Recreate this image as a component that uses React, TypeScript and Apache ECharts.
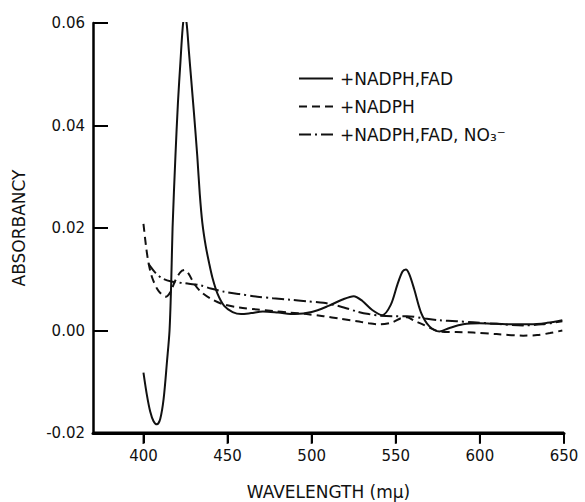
import React, { useEffect, useRef } from "react";
import * as echarts from "echarts";

const xTicks = [400, 450, 500, 550, 600, 650];
const yTicks = [-0.02, 0.0, 0.02, 0.04, 0.06];
const xRange = [370, 650];

const solidData: [number, number][] = [
  [400, -0.0082], [402, -0.0125], [404, -0.0158], [406, -0.0177], [408, -0.0183],
  [410, -0.0172], [412, -0.0133], [414, -0.006], [415.5, 0.0], [416.5, 0.0094],
  [417.3, 0.02], [419, 0.034], [420.5, 0.0445], [422, 0.0525], [423.3, 0.059],
  [424.5, 0.062], [425.8, 0.0595], [427, 0.0545], [428.5, 0.0485], [430, 0.0425],
  [432, 0.034], [433.5, 0.0265], [435, 0.021], [437, 0.0165], [439, 0.0132],
  [441, 0.0103], [444, 0.0072], [448, 0.0048], [453, 0.0036], [458, 0.0032],
  [464, 0.0034], [471, 0.0037], [480, 0.0035], [490, 0.0032], [500, 0.0036],
  [510, 0.0048], [518, 0.006], [525, 0.0067], [530, 0.0058], [536, 0.004],
  [542, 0.003], [547, 0.005], [551, 0.009], [554, 0.0115], [556, 0.0119],
  [558, 0.011], [561, 0.008], [565, 0.0035], [570, 0.0008], [576, -0.0002],
  [582, 0.0005], [590, 0.0012], [600, 0.0014], [610, 0.0013], [620, 0.0012],
  [630, 0.0012], [640, 0.0015], [649, 0.002],
];

const dashedData: [number, number][] = [
  [400, 0.0208], [401.5, 0.0165], [403, 0.0132], [405, 0.0105], [408, 0.0082],
  [411, 0.007], [413.5, 0.0066], [416, 0.0075], [419, 0.0098], [422, 0.0114],
  [424.5, 0.0118], [427, 0.011], [430, 0.0092], [434, 0.0076], [440, 0.0062],
  [447.5, 0.0051], [457, 0.0045], [467.7, 0.0041], [477, 0.0038], [487, 0.0035],
  [497, 0.0032], [507, 0.0028], [517, 0.0023], [527, 0.0018], [534, 0.0014],
  [540.7, 0.0012], [548, 0.0016], [553, 0.0024], [556.7, 0.0026], [561, 0.0019],
  [566, 0.0012], [571, 0.0004], [576, -0.0002], [586, -0.0003], [596, -0.0004],
  [610, -0.0007], [625.7, -0.001], [634, -0.0009], [641.7, -0.0005], [649, 0.0],
];

const dashDotData: [number, number][] = [
  [403, 0.013], [407, 0.0113], [411, 0.0102], [416, 0.0096], [425, 0.0092],
  [434, 0.0088], [440, 0.0082], [447.5, 0.0076], [457, 0.0071], [467.7, 0.0066],
  [477, 0.0063], [487, 0.006], [497, 0.0057], [507, 0.0054], [517, 0.0047],
  [527, 0.0037], [534, 0.0032], [540.7, 0.0029], [548, 0.0028], [556.7, 0.0028],
  [566, 0.0024], [576, 0.002], [586, 0.0018], [596, 0.0016], [610, 0.0013],
  [625.7, 0.001], [637, 0.0012], [649, 0.0018],
];

const seriesNames = ["+NADPH,FAD", "+NADPH", "+NADPH,FAD, NO₃⁻"];

export default function App() {
  const ref = useRef<HTMLDivElement>(null);
  useEffect(() => {
    document.body.style.margin = "0";
    if (!ref.current) return;
    const chart = echarts.init(ref.current, null, { renderer: "svg" });
    const font = "DejaVu Sans";
    const ink = "#000";
    const yMin = yTicks[0];
    const yMax = yTicks[yTicks.length - 1];
    const lineCommon = { type: "line", symbol: "none", showSymbol: false, smooth: 0.3, z: 3 };
    chart.setOption({
      animation: false,
      backgroundColor: "#fff",
      grid: { left: 93, top: 23, right: 21, bottom: 69, outerBoundsMode: "none" },
      legend: {
        orient: "vertical",
        left: 293,
        top: 65,
        itemWidth: 34,
        itemHeight: 14,
        itemGap: 11,
        itemStyle: { opacity: 0 },
        textStyle: { fontFamily: font, fontSize: 17, color: "#111", padding: [0, 0, 0, 2] },
        data: seriesNames,
      },
      xAxis: {
        type: "value",
        min: xRange[0],
        max: xRange[1],
        name: "WAVELENGTH (mμ)",
        nameLocation: "middle",
        nameGap: 50,
        nameTextStyle: { fontFamily: font, fontSize: 17, color: "#111" },
        axisLine: { show: true, onZero: false, lineStyle: { color: ink, width: 3 } },
        axisTick: { show: true, length: 10, lineStyle: { color: ink, width: 2 } },
        axisLabel: {
          fontFamily: font,
          fontSize: 15,
          color: "#111",
          margin: 15,
          showMinLabel: false,
          formatter: (v: number) => (xTicks.includes(v) ? String(v) : ""),
        },
        splitLine: { show: false },
      },
      yAxis: {
        type: "value",
        min: yMin,
        max: yMax,
        interval: 0.02,
        name: "ABSORBANCY",
        nameLocation: "middle",
        nameGap: 66,
        nameRotate: 90,
        nameTextStyle: { fontFamily: font, fontSize: 17, color: "#111" },
        axisLine: { show: true, onZero: false, lineStyle: { color: ink, width: 2.5 } },
        axisTick: { show: true, inside: true, length: 15, lineStyle: { color: ink, width: 2 } },
        axisLabel: {
          fontFamily: font,
          fontSize: 15,
          color: "#111",
          margin: 8,
          formatter: (v: number) => v.toFixed(2),
        },
        splitLine: { show: false },
      },
      series: [
        { ...lineCommon, name: seriesNames[0], data: solidData, lineStyle: { color: "#111", width: 2, type: "solid" }, itemStyle: { color: "#111" } },
        { ...lineCommon, name: seriesNames[1], data: dashedData, lineStyle: { color: "#111", width: 2, type: [8, 5] }, itemStyle: { color: "#111" } },
        { ...lineCommon, name: seriesNames[2], data: dashDotData, lineStyle: { color: "#111", width: 2, type: [12, 4, 2, 4] }, itemStyle: { color: "#111" } },
        {
          type: "line",
          name: "x-axis-base",
          data: [[xRange[0], yMin], [xRange[1], yMin]],
          symbol: "none",
          clip: false,
          silent: true,
          z: 6,
          lineStyle: { color: ink, width: 3, type: "solid" },
        },
        {
          type: "scatter",
          name: "x-axis-ticks",
          data: xTicks.map((t) => [t, yMin]),
          symbol: "rect",
          symbolSize: [2, 11],
          symbolOffset: [0, 5.5],
          clip: false,
          silent: true,
          z: 6,
          itemStyle: { color: ink },
        },
      ],
    });
    return () => chart.dispose();
  }, []);
  return <div ref={ref} style={{ width: 585, height: 502 }} />;
}
